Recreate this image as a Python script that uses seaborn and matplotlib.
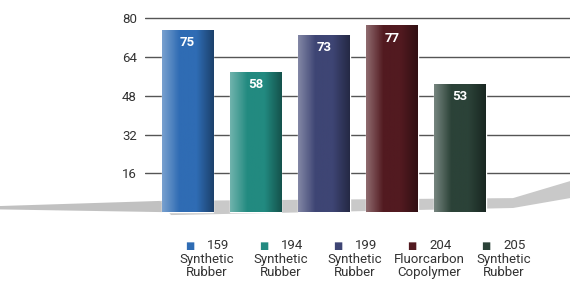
import numpy as np
import pandas as pd
import seaborn as sns
import matplotlib.pyplot as plt
import matplotlib.colors as mcolors
from matplotlib.patches import Polygon

# === Data ===
codes = ["159", "194", "199", "204", "205"]
materials = ["Synthetic\nRubber", "Synthetic\nRubber", "Synthetic\nRubber",
             "Fluorcarbon\nCopolymer", "Synthetic\nRubber"]
values = [75, 58, 73, 77, 53]
bar_colors = ["#2F6CB4", "#228A80", "#3E4574", "#521A20", "#2B4238"]
y_ticks = [16, 32, 48, 64, 80]

df = pd.DataFrame({"code": codes, "value": values})

# === Style ===
sns.set_style("white")
plt.rcParams["font.family"] = ["Roboto", "DejaVu Sans"]

fig = plt.figure(figsize=(5.7, 2.83), dpi=100)
ax = fig.add_axes([0.255, 0.225, 0.745, 0.715])
ax.set_zorder(2)
ax.set_facecolor("none")

# floor shadow (behind the axes)
shadow_col = "#b2b2b2"
fig.patches.append(Polygon([[0.0, 0.272], [0.28, 0.29], [0.30, 0.25], [0.0, 0.26]],
                           closed=True, transform=fig.transFigure, facecolor=shadow_col,
                           edgecolor="none", alpha=0.8, zorder=0))
fig.patches.append(Polygon([[0.28, 0.29], [0.90, 0.30], [1.0, 0.36], [1.0, 0.30], [0.90, 0.265], [0.30, 0.24]],
                           closed=True, transform=fig.transFigure, facecolor=shadow_col,
                           edgecolor="none", alpha=0.7, zorder=0))

sns.barplot(data=df, x="code", y="value", hue="code", palette=bar_colors,
            width=0.76, legend=False, ax=ax, zorder=3)

# horizontal gradient on each bar
grad = np.linspace(0, 1, 64).reshape(1, -1)
for patch, col in zip(ax.patches, bar_colors):
    base = np.array(mcolors.to_rgb(col))
    light = base + (1 - base) * 0.35
    dark = base * 0.6
    cmap = mcolors.LinearSegmentedColormap.from_list("b", [light, base, base, dark])
    x0, y0 = patch.get_x(), patch.get_y()
    w, h = patch.get_width(), patch.get_height()
    im = ax.imshow(grad, extent=[x0, x0 + w, y0 - 2, y0 + h], aspect="auto",
                   cmap=cmap, zorder=4)
    im.set_clip_path(patch)

for i, v in enumerate(values):
    ax.text(i, v - 2.5, str(v), ha="center", va="top", color="white",
            fontsize=9.5, fontweight="bold", zorder=5)

ax.set_xlim(-0.62, 5.62)
ax.set_ylim(-3, 80.5)
ax.set_yticks(y_ticks)
ax.set_yticklabels([str(t) for t in y_ticks], fontsize=9.5, color="#333333")
ax.tick_params(axis="y", length=0, pad=6)
ax.set_xticks([])
ax.set_xlabel("")
ax.set_ylabel("")
for t in y_ticks:
    ax.axhline(t, color="#555555", lw=1, zorder=1)
for s in ax.spines.values():
    s.set_visible(False)

# legend under the bars
for i, (c, m, col) in enumerate(zip(codes, materials, bar_colors)):
    xc = 0.363 + i * 0.13
    fig.text(xc - 0.022, 0.131, "■", color=col, fontsize=7, ha="right", va="center",
             family="DejaVu Sans")
    fig.text(xc, 0.131, c, color="#333333", fontsize=9.5, ha="left", va="center")
    fig.text(xc, 0.105, m, color="#333333", fontsize=9.5, ha="center", va="top",
             linespacing=0.95)

plt.savefig("out.png", dpi=100)
